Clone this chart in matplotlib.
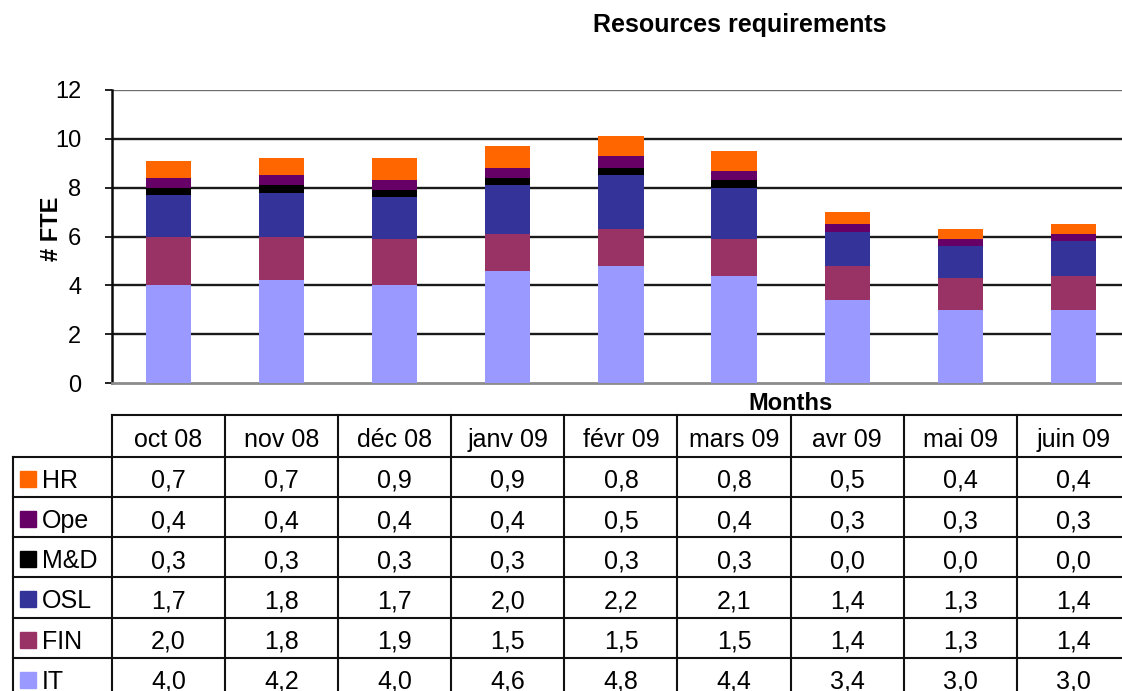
import numpy as np
import matplotlib
matplotlib.use("Agg")
from matplotlib import pyplot as plt
from matplotlib import font_manager
from matplotlib.patches import Rectangle

months = ["oct 08", "nov 08", "déc 08", "janv 09", "févr 09",
          "mars 09", "avr 09", "mai 09", "juin 09"]

hr = [0.7, 0.7, 0.9, 0.9, 0.8, 0.8, 0.5, 0.4, 0.4]
ope = [0.4, 0.4, 0.4, 0.4, 0.5, 0.4, 0.3, 0.3, 0.3]
md = [0.3, 0.3, 0.3, 0.3, 0.3, 0.3, 0.0, 0.0, 0.0]
osl = [1.7, 1.8, 1.7, 2.0, 2.2, 2.1, 1.4, 1.3, 1.4]
fin = [2.0, 1.8, 1.9, 1.5, 1.5, 1.5, 1.4, 1.3, 1.4]
it = [4.0, 4.2, 4.0, 4.6, 4.8, 4.4, 3.4, 3.0, 3.0]

# stacked from the bottom up
series = [("IT", it, "#9999FF"), ("FIN", fin, "#993366"), ("OSL", osl, "#333399"),
          ("M&D", md, "#000000"), ("Ope", ope, "#660066"), ("HR", hr, "#FF6600")]

installed = {f.name for f in font_manager.fontManager.ttflist}
if "Liberation Sans Narrow" in installed:
    tab_font, tab_size = "Liberation Sans Narrow", 21
else:
    tab_font, tab_size = "Liberation Sans", 18
plt.rcParams["font.family"] = ["Liberation Sans", "DejaVu Sans"]

W, H = 1122, 691
fig = plt.figure(figsize=(W / 100, H / 100), dpi=100)

# geometry in pixels
x0 = 112
slot = 113.1
y_zero, y_top = 383, 90
ax = fig.add_axes([x0 / W, 1 - y_zero / H, 9 * slot / W, (y_zero - y_top) / H])

x = np.arange(len(months))
bottom = np.zeros(len(months))
for name, vals, col in series:
    ax.bar(x, vals, 0.4, bottom=bottom, color=col, zorder=3, linewidth=0)
    bottom += np.array(vals)

ax.set_xlim(-0.5, len(months) - 0.5)
ax.set_ylim(0, 12)
ax.set_yticks(range(0, 13, 2))
ax.set_xticks([])
for yv in range(2, 13, 2):
    ax.axhline(yv, color="#1a1a1a" if yv < 12 else "#6e6e6e", lw=1.7, zorder=1)
for s in ["top", "right"]:
    ax.spines[s].set_visible(False)
ax.spines["left"].set_color("#0a0a0a")
ax.spines["left"].set_linewidth(1.8)
ax.spines["bottom"].set_color("#8c8c8c")
ax.spines["bottom"].set_linewidth(2)
ax.tick_params(axis="y", direction="out", length=5, width=1.3, pad=17,
               labelsize=17, color="#111111")

fig.text(52 / W, 1 - 229 / H, "# FTE", rotation=90, ha="center", va="center",
         fontsize=17, fontweight="bold")
fig.text(740 / W, 1 - 32 / H, "Resources requirements", ha="center", va="baseline",
         fontsize=18, fontweight="bold")
fig.text(791 / W, 1 - 404 / H, "Months", ha="center", va="center",
         fontsize=17, fontweight="bold")

# data table below the plot, drawn in pixel coordinates
tab = fig.add_axes([0, 0, 1, 1], zorder=-1)
tab.set_xlim(0, W)
tab.set_ylim(H, 0)
tab.axis("off")

head_top, head_bot = 415, 456.7
row_h = 40.2
left = 13
right = W
lc = "#111111"
lw = 1.5
dy = 4  # nudge text down inside the cells

tab.plot([x0, right], [head_top, head_top], color=lc, lw=lw)
for k in range(len(series) + 1):
    yy = head_bot + k * row_h
    tab.plot([left, right], [yy, yy], color=lc, lw=lw)
tab.plot([left, left], [head_bot, H + 5], color=lc, lw=lw)
for k in range(len(months) + 1):
    xx = x0 + k * slot
    tab.plot([xx, xx], [head_top, H + 5], color=lc, lw=lw)

for k, m in enumerate(months):
    tab.text(x0 + (k + 0.5) * slot, (head_top + head_bot) / 2 + dy, m,
             ha="center", va="center", fontsize=tab_size, family=tab_font)

for r, (name, vals, col) in enumerate(reversed(series)):
    yc = head_bot + (r + 0.5) * row_h
    tab.add_patch(Rectangle((20, yc - 6), 16, 16, color=col))
    tab.text(42, yc + dy, name, ha="left", va="center", fontsize=tab_size,
             family=tab_font)
    for k, v in enumerate(vals):
        tab.text(x0 + (k + 0.5) * slot, yc + dy, f"{v:.1f}".replace(".", ","),
                 ha="center", va="center", fontsize=tab_size, family=tab_font)

fig.savefig("out.png", dpi=100)
